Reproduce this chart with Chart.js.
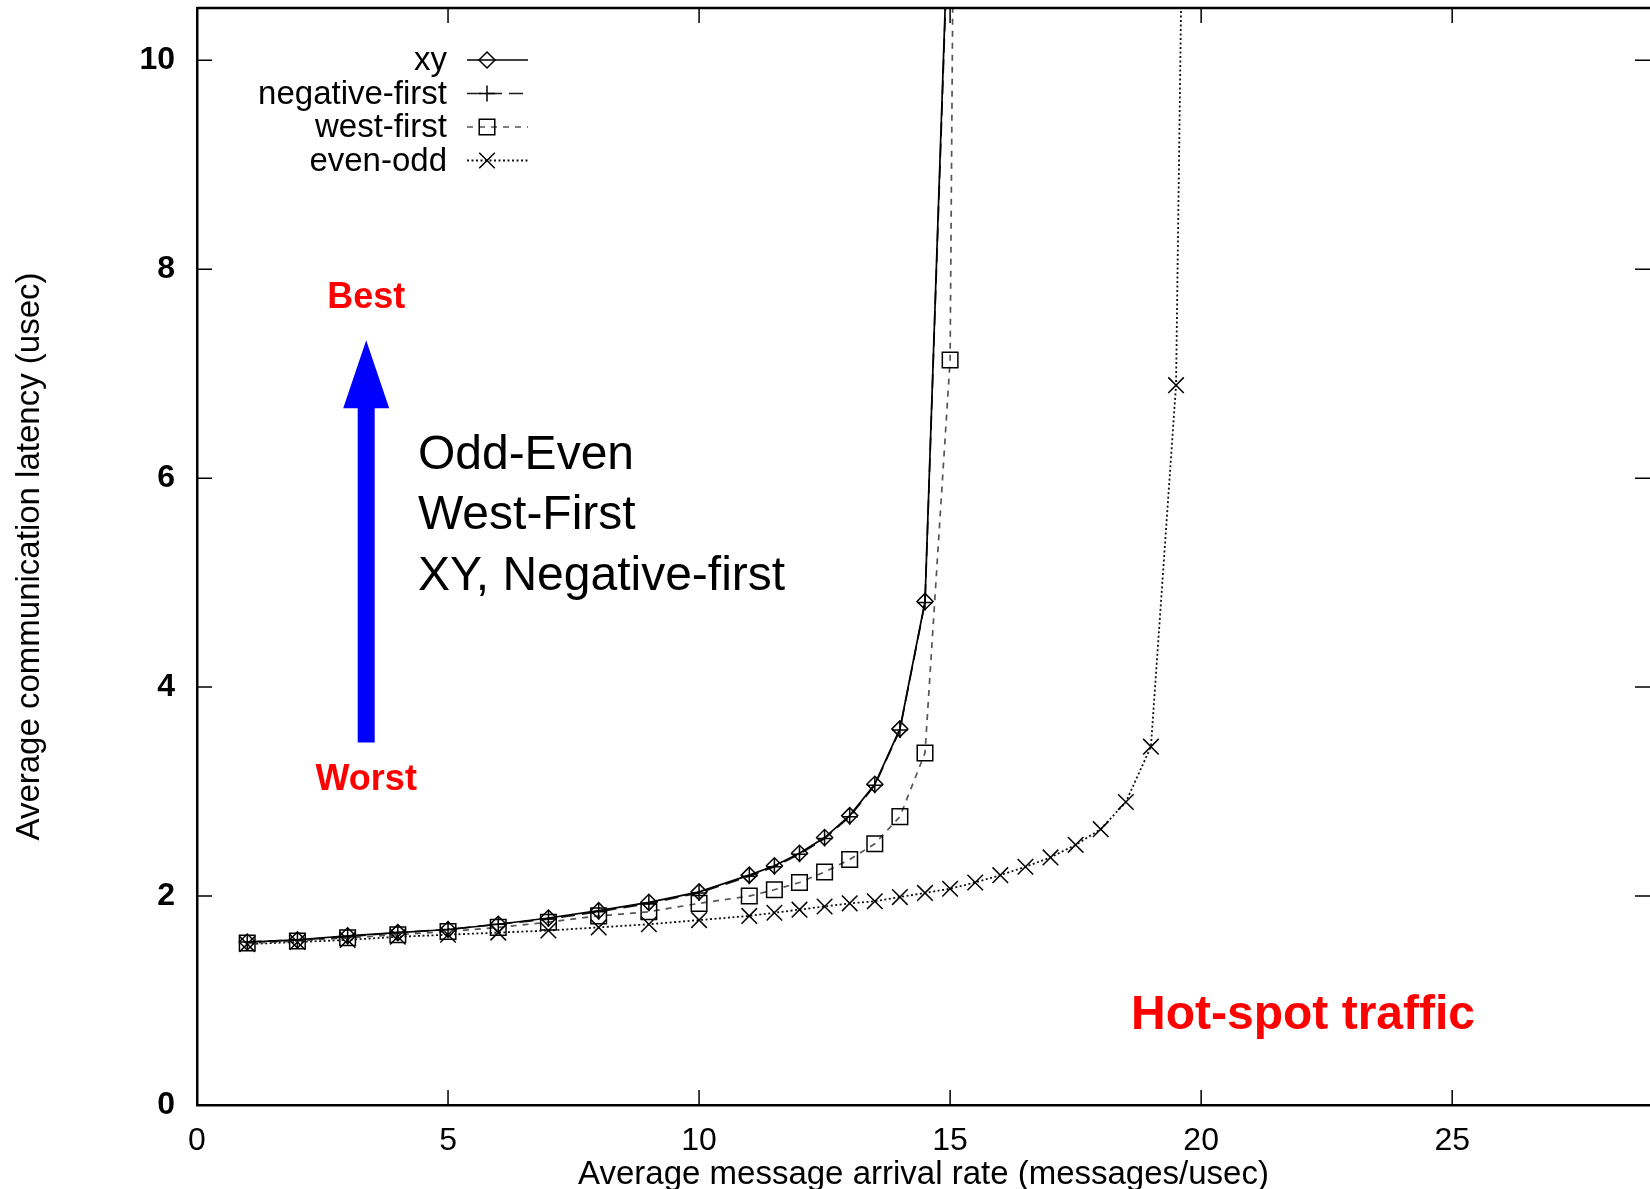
<!DOCTYPE html>
<html>
<head>
<meta charset="utf-8">
<script src="https://cdn.jsdelivr.net/npm/chart.js@4.4.1/dist/chart.umd.min.js"></script>
<style>
  html, body { margin: 0; padding: 0; background: #fff; }
  canvas { display: block; }
</style>
</head>
<body>
<canvas id="latencyChart" width="1650" height="1189"></canvas>
<script>
// message arrival rate (messages/usec) and latency (usec) per routing algorithm
const xyRate = [1, 2, 3, 4, 5, 6, 7, 8, 9, 10, 11, 11.5, 12, 12.5, 13, 13.5, 14, 14.5, 15];
const xyLatency = [1.56, 1.58, 1.62, 1.65, 1.68, 1.73, 1.79, 1.86, 1.94, 2.04, 2.20, 2.29, 2.41, 2.56, 2.77, 3.07, 3.60, 4.82, 11.9];

const negFirstRate = [1, 2, 3, 4, 5, 6, 7, 8, 9, 10, 11, 11.5, 12, 12.5, 13, 13.5, 14, 14.5, 15];
const negFirstLatency = [1.56, 1.58, 1.61, 1.65, 1.68, 1.73, 1.78, 1.85, 1.93, 2.03, 2.19, 2.28, 2.40, 2.55, 2.76, 3.06, 3.59, 4.81, 11.8];

const westFirstRate = [1, 2, 3, 4, 5, 6, 7, 8, 9, 10, 11, 11.5, 12, 12.5, 13, 13.5, 14, 14.5, 15, 15.5];
const westFirstLatency = [1.55, 1.57, 1.60, 1.63, 1.66, 1.70, 1.75, 1.81, 1.85, 1.93, 2.00, 2.06, 2.13, 2.23, 2.35, 2.50, 2.76, 3.37, 7.13, 40];

const evenOddRate = [1, 2, 3, 4, 5, 6, 7, 8, 9, 10, 11, 11.5, 12, 12.5, 13, 13.5, 14, 14.5, 15, 15.5, 16, 16.5, 17, 17.5, 18, 18.5, 19, 19.5, 20];
const evenOddLatency = [1.54, 1.56, 1.58, 1.61, 1.63, 1.65, 1.67, 1.70, 1.73, 1.77, 1.81, 1.84, 1.87, 1.90, 1.93, 1.95, 1.99, 2.03, 2.07, 2.13, 2.20, 2.28, 2.37, 2.49, 2.64, 2.90, 3.43, 6.89, 25];

const xTicks = [0, 5, 10, 15, 20, 25];
const yTicks = [0, 2, 4, 6, 8, 10];

const FONT = "'Liberation Sans', Arial, Helvetica, sans-serif";

const pairs = (xs, ys) => xs.map((x, i) => ({ x: x, y: ys[i] }));

// inward gnuplot-style ticks on all four sides + top border
const frameTicks = {
    id: 'frameTicks',
    afterDatasetsDraw(chart) {
        const { ctx, chartArea: a, scales: { x, y } } = chart;
        ctx.save();
        ctx.strokeStyle = '#000';
        ctx.lineWidth = 1.5;
        ctx.beginPath();
        xTicks.forEach(v => {
            const px = x.getPixelForValue(v);
            ctx.moveTo(px, a.bottom); ctx.lineTo(px, a.bottom - 15);
            ctx.moveTo(px, a.top); ctx.lineTo(px, a.top + 15);
        });
        yTicks.forEach(v => {
            const py = y.getPixelForValue(v);
            ctx.moveTo(a.left, py); ctx.lineTo(a.left + 15, py);
            ctx.moveTo(a.right, py); ctx.lineTo(a.right - 15, py);
        });
        ctx.stroke();
        ctx.lineWidth = 2.5;
        ctx.beginPath();
        ctx.moveTo(a.left, a.top);
        ctx.lineTo(a.right, a.top);
        ctx.stroke();
        ctx.restore();
    }
};

// key in the upper left: label right aligned, sample line + marker to the right
const keyBox = {
    id: 'keyBox',
    afterDraw(chart) {
        const { ctx, chartArea: a } = chart;
        ctx.save();
        ctx.font = '33px ' + FONT;
        ctx.textAlign = 'right';
        ctx.textBaseline = 'middle';
        chart.data.datasets.forEach((ds, i) => {
            const rowY = a.top + 52 + i * 33.5;
            ctx.fillStyle = '#000';
            ctx.fillText(ds.label, a.left + 250, rowY + 1);
            ctx.strokeStyle = ds.borderColor;
            ctx.lineWidth = ds.borderWidth;
            ctx.setLineDash(ds.borderDash || []);
            ctx.beginPath();
            ctx.moveTo(a.left + 270, rowY);
            ctx.lineTo(a.left + 331, rowY);
            ctx.stroke();
            ctx.setLineDash([]);
            ctx.strokeStyle = '#000';
            ctx.fillStyle = 'rgba(0,0,0,0)';
            ctx.lineWidth = ds.pointBorderWidth;
            Chart.helpers.drawPoint(ctx, {
                pointStyle: ds.pointStyle,
                radius: ds.pointRadius,
                rotation: 0,
                borderWidth: ds.pointBorderWidth
            }, a.left + 290, rowY);
        });
        ctx.restore();
    }
};

// annotations placed in data coordinates
const notes = [
    { text: 'Best', x: 3.37, y: 7.72, font: 'bold 36px ' + FONT, color: '#ff0000', align: 'center' },
    { text: 'Worst', x: 3.37, y: 3.11, font: 'bold 36px ' + FONT, color: '#ff0000', align: 'center' },
    { text: 'Odd-Even', x: 4.4, y: 6.21, font: '48px ' + FONT, color: '#000', align: 'left' },
    { text: 'West-First', x: 4.4, y: 5.64, font: '48px ' + FONT, color: '#000', align: 'left' },
    { text: 'XY, Negative-first', x: 4.4, y: 5.06, font: '48px ' + FONT, color: '#000', align: 'left' },
    { text: 'Hot-spot traffic', x: 22.03, y: 0.85, font: 'bold 48px ' + FONT, color: '#ff0000', align: 'center' }
];
const arrow = { x: 3.37, tail: 3.47, headBase: 6.67, tip: 7.32 };

const annotations = {
    id: 'annotations',
    afterDraw(chart) {
        const { ctx, scales: { x, y } } = chart;
        ctx.save();
        const ax = x.getPixelForValue(arrow.x);
        const tailY = y.getPixelForValue(arrow.tail);
        const baseY = y.getPixelForValue(arrow.headBase);
        const tipY = y.getPixelForValue(arrow.tip);
        ctx.fillStyle = '#0000ff';
        ctx.beginPath();
        ctx.moveTo(ax - 8.5, tailY);
        ctx.lineTo(ax - 8.5, baseY);
        ctx.lineTo(ax - 23, baseY);
        ctx.lineTo(ax, tipY);
        ctx.lineTo(ax + 23, baseY);
        ctx.lineTo(ax + 8.5, baseY);
        ctx.lineTo(ax + 8.5, tailY);
        ctx.closePath();
        ctx.fill();
        ctx.textBaseline = 'middle';
        notes.forEach(n => {
            ctx.font = n.font;
            ctx.fillStyle = n.color;
            ctx.textAlign = n.align;
            ctx.fillText(n.text, x.getPixelForValue(n.x), y.getPixelForValue(n.y));
        });
        ctx.restore();
    }
};

function series(label, data, dash, color, width, style, radius) {
    return {
        label: label,
        data: data,
        borderColor: color,
        borderWidth: width,
        borderDash: dash,
        fill: false,
        tension: 0,
        pointStyle: style,
        pointRadius: radius,
        pointBorderWidth: 1.5,
        pointBorderColor: '#000',
        pointBackgroundColor: 'rgba(0,0,0,0)'
    };
}

const ctx = document.getElementById('latencyChart').getContext('2d');
new Chart(ctx, {
    type: 'line',
    data: {
        datasets: [
            series('xy', pairs(xyRate, xyLatency), [], '#000', 1.7, 'rectRot', 8),
            series('negative-first', pairs(negFirstRate, negFirstLatency), [14, 7], '#1a1a1a', 1.7, 'cross', 8),
            series('west-first', pairs(westFirstRate, westFirstLatency), [6, 6], '#555', 1.7, 'rect', 11),
            series('even-odd', pairs(evenOddRate, evenOddLatency), [2, 2.5], '#111', 1.8, 'crossRot', 11)
        ]
    },
    options: {
        responsive: false,
        animation: false,
        layout: { autoPadding: false, padding: { top: 8, right: 0, left: 0, bottom: 0 } },
        scales: {
            x: {
                type: 'linear',
                min: 0,
                max: 28.94,
                grid: { display: false },
                border: { display: true, color: '#000', width: 2.5 },
                ticks: {
                    stepSize: 5,
                    includeBounds: false,
                    color: '#000',
                    padding: 9,
                    maxRotation: 0,
                    font: { family: FONT, size: 32 }
                },
                title: {
                    display: true,
                    text: 'Average message arrival rate (messages/usec)',
                    color: '#000',
                    font: { family: FONT, size: 33, lineHeight: 1 },
                    padding: { top: 0, bottom: -2 }
                },
                afterFit(scale) {
                    scale.height = 84;
                    scale.paddingLeft = 0;
                    scale.paddingRight = 0;
                }
            },
            y: {
                type: 'linear',
                min: 0,
                max: 10.5,
                grid: { display: false },
                border: { display: true, color: '#000', width: 2.5 },
                ticks: {
                    stepSize: 2,
                    includeBounds: false,
                    color: '#000',
                    padding: 14,
                    font: { family: FONT, size: 32, weight: 'bold' }
                },
                title: {
                    display: true,
                    text: 'Average communication latency (usec)',
                    color: '#000',
                    font: { family: FONT, size: 33, lineHeight: 1.2 },
                    padding: { top: 10, bottom: 0 }
                },
                afterFit(scale) {
                    scale.width = 197;
                    scale.paddingTop = 0;
                    scale.paddingBottom = 0;
                }
            }
        },
        plugins: {
            legend: { display: false },
            tooltip: { enabled: false }
        }
    },
    plugins: [frameTicks, keyBox, annotations]
});
</script>
</body>
</html>
